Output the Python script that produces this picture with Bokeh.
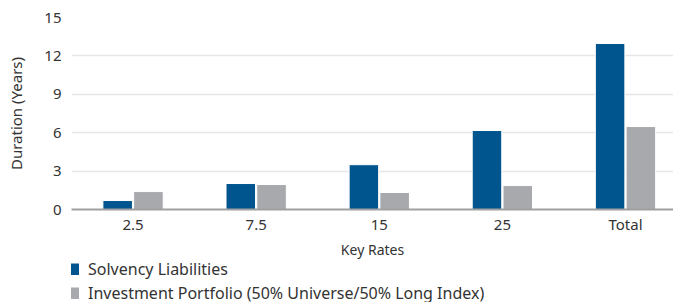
from bokeh.plotting import figure
from bokeh.layouts import column
from bokeh.models import ColumnDataSource, FixedTicker, Legend, LegendItem, Range1d
from bokeh.embed import file_html
from bokeh.resources import INLINE
from bokeh.transform import dodge

categories = ["2.5", "7.5", "15", "25", "Total"]
solvency = [0.7, 2.03, 3.5, 6.17, 12.97]
portfolio = [1.4, 1.95, 1.33, 1.87, 6.48]
y_ticks = [0, 3, 6, 9, 12, 15]
series_names = ["Solvency Liabilities", "Investment Portfolio (50% Universe/50% Long Index)"]

FONT = "Noto Sans"
TXT = "#333333"
BLUE = "#00558f"
GRAY = "#a7a9ac"

src = ColumnDataSource(dict(x=list(range(len(categories))), s=solvency, p=portfolio))

p = figure(width=673, height=261, output_backend="svg", toolbar_location=None,
           x_range=Range1d(-0.5, 4.39), y_range=Range1d(0, 15),
           min_border_left=71, min_border_right=0, min_border_top=17, min_border_bottom=30)
p.outline_line_color = None

p.vbar(x=dodge("x", -0.125, range=p.x_range), top="s", width=0.24, source=src,
       fill_color=BLUE, line_color="white", line_width=1)
p.vbar(x=dodge("x", 0.125, range=p.x_range), top="p", width=0.24, source=src,
       fill_color=GRAY, line_color="white", line_width=1)

p.xaxis.ticker = FixedTicker(ticks=list(range(len(categories))))
p.xaxis.major_label_overrides = {i: c for i, c in enumerate(categories)}
p.xaxis.axis_label = "Key Rates"
p.yaxis.axis_label = "Duration (Years)"
p.yaxis.ticker = FixedTicker(ticks=y_ticks)

for ax in (p.xaxis[0], p.yaxis[0]):
    ax.major_tick_line_color = None
    ax.minor_tick_line_color = None
    ax.major_tick_out = 0
    ax.major_tick_in = 0
    ax.minor_tick_out = 0
    ax.minor_tick_in = 0
    ax.major_label_text_font = FONT
    ax.major_label_text_font_size = "15px"
    ax.major_label_text_color = TXT
    ax.axis_label_text_font = FONT
    ax.axis_label_text_font_style = "normal"
    ax.axis_label_text_color = TXT
p.xaxis.axis_label_text_font_size = "14px"
p.yaxis.axis_label_text_font_size = "15px"
p.yaxis.axis_line_color = None
p.xaxis.axis_line_color = "#a0a0a0"
p.xaxis.axis_line_width = 2
p.xaxis.major_label_standoff = 4
p.xaxis.axis_label_standoff = 3
p.yaxis.major_label_standoff = 10
p.yaxis.axis_label_standoff = 15

p.xgrid.grid_line_color = None
p.ygrid.grid_line_color = "#e6e6e6"
p.ygrid.grid_line_width = 1.5

# legend strip below the chart; thick butt-capped lines give square swatches
lg = figure(width=673, height=41, output_backend="svg", toolbar_location=None,
            x_range=Range1d(0, 1), y_range=Range1d(0, 1),
            x_axis_location=None, y_axis_location=None,
            min_border_left=71, min_border_right=0, min_border_top=0, min_border_bottom=0)
lg.outline_line_color = None
lg.xgrid.visible = False
lg.ygrid.visible = False
d1 = lg.line(x=[-10, -9], y=[-10, -10], line_color=BLUE, line_width=12, line_cap="butt")
d2 = lg.line(x=[-10, -9], y=[-10, -10], line_color=GRAY, line_width=12, line_cap="butt")

legend = Legend(items=[LegendItem(label=series_names[0], renderers=[d1]),
                       LegendItem(label=series_names[1], renderers=[d2])],
                location=(-4, -2), orientation="vertical",
                label_text_font=FONT, label_text_font_size="16px", label_text_color=TXT,
                glyph_width=12, glyph_height=12, label_standoff=9, spacing=2,
                padding=0, margin=0, border_line_color=None, background_fill_alpha=0,
                label_height=22)
lg.add_layout(legend, "center")

layout = column(p, lg, spacing=0)
open("out.html", "w").write(file_html(layout, INLINE))
